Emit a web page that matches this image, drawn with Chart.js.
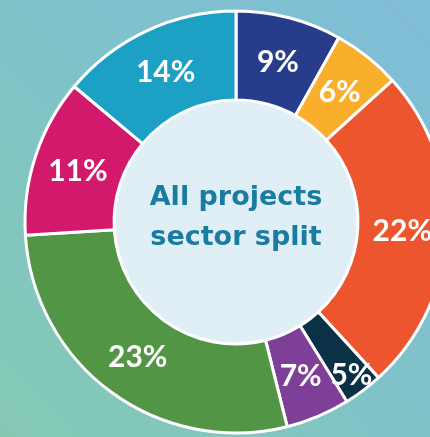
<!DOCTYPE html>
<html>
<head>
<meta charset="utf-8">
<script src="https://cdn.jsdelivr.net/npm/chart.js@4.4.1/dist/chart.umd.min.js"></script>
<style>
  html, body { margin: 0; padding: 0; width: 430px; height: 437px; overflow: hidden; }
  body { background: linear-gradient(45deg, #85c9b4 0%, #7fc3c9 50%, #80bdd7 100%); position: relative; }
  #wrap { position: absolute; left: 0; top: 0; width: 472px; height: 444px; }
</style>
</head>
<body>
<div id="wrap"><canvas id="c" width="472" height="444"></canvas></div>
<script>
// Sectors, clockwise from 12 o'clock
const sectors = ["Sector A", "Sector B", "Sector C", "Sector D", "Sector E", "Sector F", "Sector G", "Sector H"];
// Printed percentage labels
const pctLabels = ["9%", "6%", "22%", "5%", "7%", "23%", "11%", "14%"];
// Slice sizes as drawn in the picture (share of the ring, %)
const sliceShares = [8.1, 5.2, 24.9, 3.0, 4.9, 27.9, 12.1, 13.9];
const sliceColors = ["#283c8c", "#f9ae2c", "#ec552e", "#0b3147", "#7e3f98", "#529645", "#d3196c", "#1ca0c4"];
const centerLines = ["All projects", "sector split"];

const labelRadialFactor = [1, 1, 1, 1.15, 1, 1, 1, 1];

const ringPlugin = {
  id: 'ringDecor',
  beforeDatasetsDraw(chart) {
    const arc = chart.getDatasetMeta(0).data[0];
    const {x, y, innerRadius} = arc.getProps(['x', 'y', 'innerRadius'], true);
    const ctx = chart.ctx;
    ctx.save();
    ctx.beginPath();
    ctx.arc(x, y, innerRadius, 0, Math.PI * 2);
    ctx.fillStyle = '#e0eef6';
    ctx.fill();
    ctx.restore();
  },
  afterDatasetsDraw(chart) {
    const ctx = chart.ctx;
    const meta = chart.getDatasetMeta(0);
    ctx.save();
    ctx.fillStyle = '#ffffff';
    ctx.font = 'bold 30px Lato, "Open Sans", sans-serif';
    ctx.textAlign = 'center';
    ctx.textBaseline = 'middle';
    meta.data.forEach((el, i) => {
      const p = el.getProps(['x', 'y', 'startAngle', 'endAngle', 'innerRadius', 'outerRadius'], true);
      const mid = (p.startAngle + p.endAngle) / 2;
      const r = (p.innerRadius + p.outerRadius) / 2 * labelRadialFactor[i];
      ctx.fillText(pctLabels[i], p.x + Math.cos(mid) * r, p.y + Math.sin(mid) * r + 1);
    });
    const a = meta.data[0];
    ctx.fillStyle = '#1b7ca2';
    ctx.font = 'bold 27px "DejaVu Sans", sans-serif';
    ctx.textBaseline = 'alphabetic';
    ctx.fillText(centerLines[0], a.x, a.y - 17);
    ctx.fillText(centerLines[1], a.x, a.y + 23);
    ctx.restore();
  }
};

new Chart(document.getElementById('c'), {
  type: 'doughnut',
  data: {
    labels: sectors,
    datasets: [{
      data: sliceShares,
      backgroundColor: sliceColors,
      borderColor: '#ffffff',
      borderWidth: 3,
      hoverOffset: 0
    }]
  },
  options: {
    responsive: false,
    animation: false,
    radius: 211,
    cutout: '57.8%',
    rotation: 0,
    layout: { padding: 0 },
    plugins: { legend: { display: false }, tooltip: { enabled: false } },
    events: []
  },
  plugins: [ringPlugin]
});
</script>
</body>
</html>
